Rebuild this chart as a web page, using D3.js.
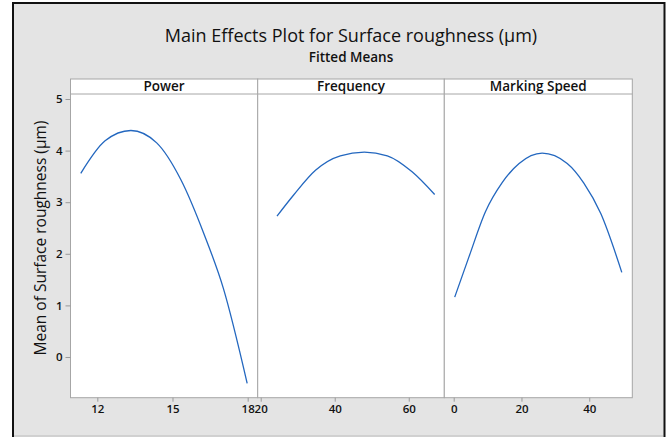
<!DOCTYPE html>
<head>
  <meta charset="utf-8">
  <script src="https://d3js.org/d3.v7.min.js"></script>
  <style>
    body { margin:0; background:#fff; }
    text { font-family: "Open Sans", "Noto Sans", sans-serif; fill:#111; }
    .tick line { stroke:#9a9a9a; }
    .tick text { font-size:11.5px; font-weight:600; }
  </style>
</head>
<body>
<script>
  // factors shown in the strips
  var factors = ["Power", "Frequency", "Marking Speed"];

  // fitted means
  var powerX = [11.34, 12.31, 13.34, 14.37, 15.33, 16.26, 17.03, 17.98];
  var powerY = [3.56, 4.19, 4.39, 4.15, 3.44, 2.38, 1.33, -0.51];
  var freqX = [24.4, 28.9, 34.8, 41.5, 48.0, 54.2, 60.9, 67.0];
  var freqY = [2.73, 3.14, 3.62, 3.90, 3.97, 3.90, 3.59, 3.15];
  var speedX = [0.3, 4.5, 9.4, 14.3, 19.3, 26.1, 33.5, 38.4, 43.4, 49.6];
  var speedY = [1.16, 1.94, 2.82, 3.38, 3.75, 3.95, 3.75, 3.37, 2.78, 1.64];

  var powerTicks = [12, 15, 18];
  var freqTicks = [20, 40, 60];
  var speedTicks = [0, 20, 40];
  var yTicks = [0, 1, 2, 3, 4, 5];

  var width = 669, height = 437;
  var svg = d3.select("body").append("svg")
    .attr("width", width).attr("height", height);

  // outer frame
  svg.append("rect")
    .attr("x", 13).attr("y", 3).attr("width", 651.5).attr("height", 440)
    .attr("fill", "#e4e4e4").attr("stroke", "#111").attr("stroke-width", 2);
  svg.append("line")
    .attr("x1", 14).attr("x2", 663).attr("y1", 436).attr("y2", 436)
    .attr("stroke", "#bdbdbd");

  svg.append("text").attr("x", 351).attr("y", 42)
    .attr("text-anchor", "middle").style("font-size", "18px")
    .text("Main Effects Plot for Surface roughness (µm)");
  svg.append("text").attr("x", 351).attr("y", 62)
    .attr("text-anchor", "middle").style("font-size", "13.5px").style("font-weight", 600)
    .text("Fitted Means");

  var stripTop = 79, plotTop = 94, plotBottom = 397.7;
  var edges = [70.5, 257.7, 444.3, 632.3];

  var y = d3.scaleLinear().domain([-0.789, 5.097]).range([plotBottom, plotTop]);

  var panels = [
    { xs: powerX, ys: powerY, ticks: powerTicks, dom: [10.93, 18.4] },
    { xs: freqX, ys: freqY, ticks: freqTicks, dom: [19.19, 69.6] },
    { xs: speedX, ys: speedY, ticks: speedTicks, dom: [-2.77, 52.7] }
  ];

  var line = d3.line().curve(d3.curveMonotoneX);

  panels.forEach(function(p, i) {
    var x0 = edges[i], x1 = edges[i + 1];
    var x = d3.scaleLinear().domain(p.dom).range([x0, x1]);

    svg.append("rect")
      .attr("x", x0).attr("y", stripTop).attr("width", x1 - x0).attr("height", plotBottom - stripTop)
      .attr("fill", "#fff").attr("stroke", "#a6a6a6");
    svg.append("line")
      .attr("x1", x0).attr("x2", x1).attr("y1", plotTop).attr("y2", plotTop)
      .attr("stroke", "#a6a6a6");
    svg.append("text")
      .attr("x", (x0 + x1) / 2).attr("y", plotTop - 3)
      .attr("text-anchor", "middle").style("font-size", "13.5px").style("font-weight", 600)
      .text(factors[i]);

    var ax = svg.append("g").attr("transform", "translate(0," + plotBottom + ")")
      .call(d3.axisBottom(x).tickValues(p.ticks).tickSize(4).tickPadding(3).tickFormat(d3.format("d")));
    ax.select(".domain").remove();

    var pts = p.xs.map(function(v, k) { return [x(v), y(p.ys[k])]; });
    svg.append("path").attr("d", line(pts))
      .attr("fill", "none").attr("stroke", "#2367bf").attr("stroke-width", 1.3);
  });

  var ay = svg.append("g").attr("transform", "translate(" + edges[0] + ",0)")
    .call(d3.axisLeft(y).tickValues(yTicks).tickSize(5).tickPadding(3).tickFormat(d3.format("d")));
  ay.select(".domain").remove();

  svg.append("text")
    .attr("transform", "translate(46,238) rotate(-90)")
    .attr("text-anchor", "middle").style("font-size", "15.5px")
    .text("Mean of Surface roughness (µm)");
</script>
</body>
